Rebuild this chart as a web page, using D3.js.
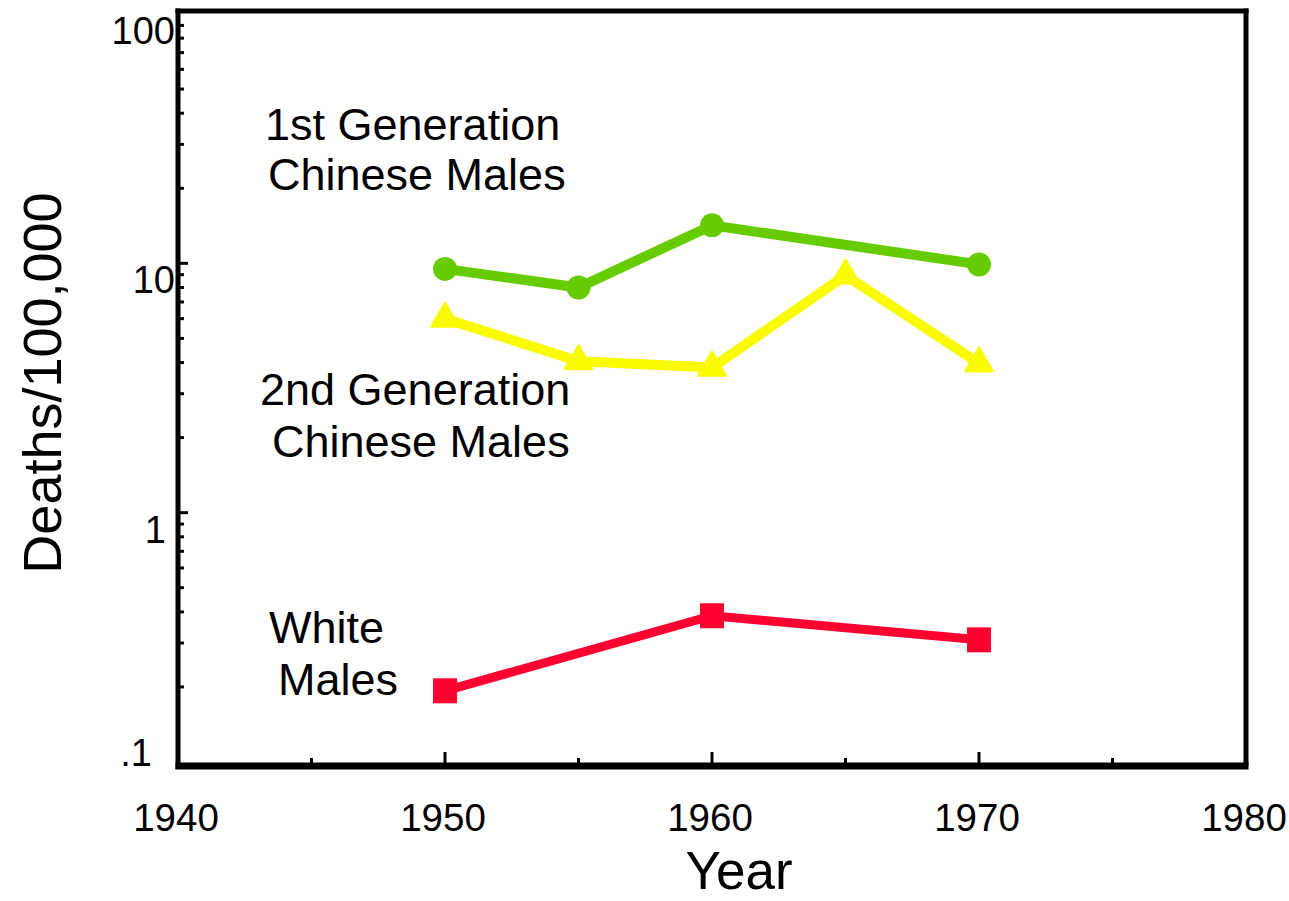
<!DOCTYPE html>
<html><head><meta charset="utf-8">
<script src="https://cdn.jsdelivr.net/npm/d3@7"></script>
<style>body{margin:0;background:#fff}svg{display:block}text{font-family:"Liberation Sans",Arial,sans-serif;fill:#000}</style>
</head><body><svg id="c" width="1289" height="901"></svg>
<script>
const firstGenYears = [1950, 1955, 1960, 1970];
const firstGenValues = [9.5, 8.0, 14.2, 9.9];
const secondGenYears = [1950, 1955, 1960, 1965, 1970];
const secondGenValues = [6.0, 4.05, 3.82, 8.95, 3.97];
const whiteYears = [1950, 1960, 1970];
const whiteValues = [0.193, 0.386, 0.309];
const xTicks = [1940, 1950, 1960, 1970, 1980];
const xMinorTicks = [1945, 1955, 1965, 1975];
const yTicks = [0.1, 1, 10, 100];
const yTickLabels = [".1", "1", "10", "100"];

const svg = d3.select("#c");
const L = 178, R = 1246, T = 11, B = 766;
const x = d3.scaleLinear().domain([1940, 1980]).range([L, R]);
const y = d3.scaleLog().domain([0.1, 100]).range([762, 14]);

// frame
svg.append("line").attr("x1", L).attr("x2", L).attr("y1", T - 2.5).attr("y2", B + 3).attr("stroke", "#000").attr("stroke-width", 5);
svg.append("line").attr("x1", L - 2.5).attr("x2", R + 2.5).attr("y1", T).attr("y2", T).attr("stroke", "#000").attr("stroke-width", 5);
svg.append("line").attr("x1", R).attr("x2", R).attr("y1", T - 2.5).attr("y2", B).attr("stroke", "#000").attr("stroke-width", 5);
svg.append("line").attr("x1", L - 2.5).attr("x2", R + 2.5).attr("y1", B).attr("y2", B).attr("stroke", "#000").attr("stroke-width", 7);

// y ticks
const minor = [];
for (const d of [0.1, 1, 10]) for (let k = 2; k <= 9; k++) minor.push(d * k);
svg.selectAll(".ymin").data(minor).enter().append("line")
  .attr("x1", L).attr("x2", L + 6).attr("y1", d => y(d)).attr("y2", d => y(d))
  .attr("stroke", "#000").attr("stroke-width", 3);
svg.selectAll(".ymaj").data([1, 10]).enter().append("line")
  .attr("x1", L).attr("x2", L + 10).attr("y1", d => y(d)).attr("y2", d => y(d))
  .attr("stroke", "#000").attr("stroke-width", 3);
const labelRight = d => d === 0.1 ? 152 : d === 1 ? 166 : 175;
svg.selectAll(".ylab").data(yTicks).enter().append("text")
  .attr("x", labelRight).attr("y", d => y(d) + (d === 0.1 ? 4 : 30))
  .attr("text-anchor", "end").attr("font-size", 38)
  .text((d, i) => yTickLabels[i]);

// x ticks
svg.selectAll(".xmaj").data([1950, 1960, 1970]).enter().append("line")
  .attr("x1", d => x(d)).attr("x2", d => x(d)).attr("y1", B - 14).attr("y2", B)
  .attr("stroke", "#000").attr("stroke-width", 3);
svg.selectAll(".xmin").data(xMinorTicks).enter().append("line")
  .attr("x1", d => x(d)).attr("x2", d => x(d)).attr("y1", B - 8).attr("y2", B)
  .attr("stroke", "#000").attr("stroke-width", 3);
svg.selectAll(".xlab").data(xTicks).enter().append("text")
  .attr("x", d => x(d) - 2).attr("y", 831).attr("text-anchor", "middle").attr("font-size", 38.5)
  .text(d => d);

// axis titles
svg.append("text").attr("x", 739).attr("y", 889).attr("text-anchor", "middle").attr("font-size", 53).text("Year");
svg.append("text").attr("transform", "translate(61,383) rotate(-90)").attr("text-anchor", "middle").attr("font-size", 54).text("Deaths/100,000");

// series
const line = d3.line().x(d => x(d[0])).y(d => y(d[1]));
const g1 = firstGenYears.map((d, i) => [d, firstGenValues[i]]);
const g2 = secondGenYears.map((d, i) => [d, secondGenValues[i]]);
const g3 = whiteYears.map((d, i) => [d, whiteValues[i]]);

svg.append("path").datum(g1).attr("d", line).attr("fill", "none").attr("stroke", "#66CC00").attr("stroke-width", 10);
svg.selectAll(".c1").data(g1).enter().append("circle").attr("cx", d => x(d[0])).attr("cy", d => y(d[1])).attr("r", 12).attr("fill", "#66CC00");

svg.append("path").datum(g2).attr("d", line).attr("fill", "none").attr("stroke", "#FAFA00").attr("stroke-width", 10).attr("stroke-linejoin", "round");
const tri = d3.symbol().type(d3.symbolTriangle).size(300);
svg.selectAll(".t2").data(g2).enter().append("path").attr("d", tri)
  .attr("transform", d => `translate(${x(d[0])},${y(d[1])})`).attr("fill", "#FAFA00").attr("stroke", "#FAFA00").attr("stroke-width", 3).attr("stroke-linejoin", "round");

svg.append("path").datum(g3).attr("d", line).attr("fill", "none").attr("stroke", "#FF0030").attr("stroke-width", 9);
svg.selectAll(".s3").data(g3).enter().append("rect").attr("x", d => x(d[0]) - 12).attr("y", d => y(d[1]) - 12.5).attr("width", 24).attr("height", 25).attr("fill", "#FF0030");

// annotations
const ann = [
  ["1st Generation", 265, 140], ["Chinese Males", 268, 190],
  ["2nd Generation", 260, 405], ["Chinese Males", 272, 457],
  ["White", 269, 643], ["Males", 278, 695]
];
svg.selectAll(".ann").data(ann).enter().append("text").attr("x", d => d[1]).attr("y", d => d[2]).attr("font-size", 45).text(d => d[0]);
</script></body></html>
